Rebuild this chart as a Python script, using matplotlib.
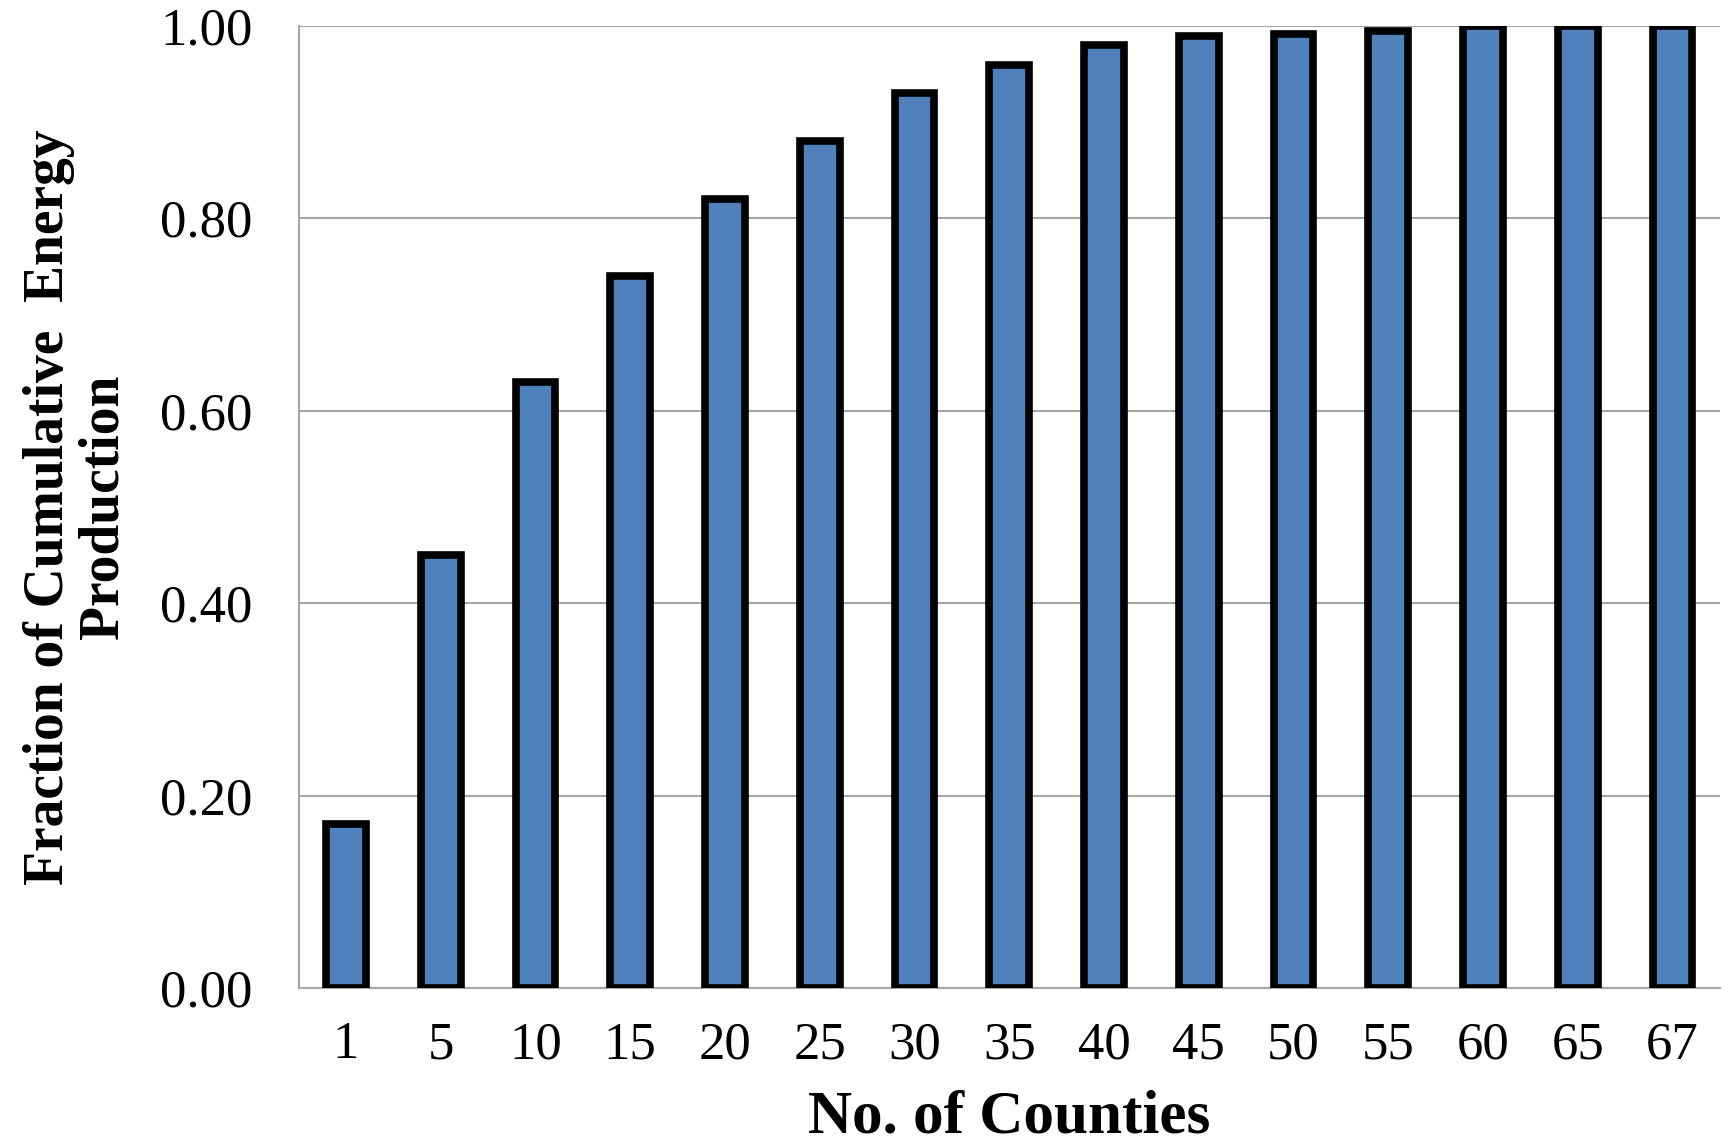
import matplotlib
matplotlib.use("Agg")
import matplotlib.pyplot as plt
import numpy as np

counties = ["1", "5", "10", "15", "20", "25", "30", "35", "40", "45", "50", "55", "60", "65", "67"]
fraction = [0.17, 0.45, 0.63, 0.74, 0.82, 0.88, 0.93, 0.96, 0.98, 0.99, 0.992, 0.995, 1.0, 1.0, 1.0]
yticks = [0.0, 0.2, 0.4, 0.6, 0.8, 1.0]

plt.rcParams["font.family"] = ["Liberation Serif", "DejaVu Serif"]

fig = plt.figure(figsize=(17.31, 11.47), dpi=100)
ax = fig.add_axes([0.1725, 0.1386, 0.8211, 0.8387])

x = np.arange(len(counties))
ax.bar(x, fraction, width=0.42, color="#4F81BD", edgecolor="black", linewidth=5.5, zorder=3)

ax.set_xlim(-0.5, len(counties) - 0.5)
ax.set_ylim(0, 1.0)
ax.set_yticks(yticks)
ax.set_yticklabels(["%.2f" % v for v in yticks])
ax.set_xticks(x)
ax.set_xticklabels(counties)
ax.tick_params(axis="y", length=0, labelsize=38, pad=33)
ax.tick_params(axis="x", length=0, labelsize=38, pad=24)

ax.grid(axis="y", color="#A6A6A6", linewidth=1.5, zorder=0)
for side in ["top", "right"]:
    ax.spines[side].set_visible(False)
for side in ["left", "bottom"]:
    ax.spines[side].set_color("#A6A6A6")
    ax.spines[side].set_linewidth(1.5)

fig.text(0.1725 + 0.8211 / 2, 0.026, "No. of Counties", ha="center", va="center",
         fontsize=44, fontweight="bold")
fig.text(0.044, 0.5 * (0.1386 + 0.9773), "Fraction of Cumulative  Energy\nProduction",
         rotation=90, ha="center", va="center", multialignment="center",
         fontsize=40, fontweight="bold", linespacing=1.05)

fig.savefig("out.png", dpi=100)
